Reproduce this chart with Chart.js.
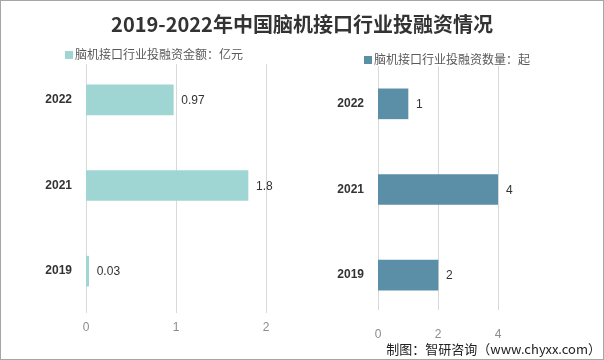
<!DOCTYPE HTML>
<html>
<head>
    <title>2019-2022年中国脑机接口行业投融资情况</title>
    <meta charset="utf-8">
    <script src="https://cdn.jsdelivr.net/npm/chart.js@4.4.1/dist/chart.umd.min.js"></script>
    <style>
        html, body {
            margin: 0;
            padding: 0;
            background: #fff;
        }
        .container {
            position: relative;
            width: 604px;
            height: 360px;
            border: 1px solid #a6a6a6;
            box-sizing: border-box;
            overflow: hidden;
            font-family: "Noto Sans CJK SC", "Noto Sans", sans-serif;
        }
        .title {
            position: absolute;
            top: 8px;
            left: 0;
            width: 100%;
            text-align: center;
            font-size: 20px;
            font-weight: bold;
            color: #333;
            line-height: 30px;
        }
        .legend {
            position: absolute;
            font-size: 12px;
            color: #595959;
            line-height: 16px;
            white-space: nowrap;
        }
        .legend i {
            display: inline-block;
            width: 8px;
            height: 8px;
            margin-right: 2px;
            vertical-align: 0px;
        }
        #amount-chart {
            position: absolute;
            top: 0;
            left: 0;
        }
        #count-chart {
            position: absolute;
            top: 0;
            left: 302px;
        }
        .source {
            position: absolute;
            right: 2px;
            top: 338px;
            font-size: 13px;
            color: #222;
            line-height: 20px;
            white-space: nowrap;
        }
    </style>
</head>
<body>
    <section class="container">
        <canvas id="amount-chart" width=302 height=360></canvas>
        <canvas id="count-chart" width=302 height=360></canvas>
        <div class="title">2019-2022年中国脑机接口行业投融资情况</div>
        <div class="legend" style="left:64px; top:45px;"><i style="background:#9fd6d3"></i>脑机接口行业投融资金额：亿元</div>
        <div class="legend" style="left:363px; top:50px;"><i style="background:#5b8fa7"></i>脑机接口行业投融资数量：起</div>
        <div class="source">制图：智研咨询（www.chyxx.com）</div>
    </section>

    <script>
        // data
        var years = ['2022', '2021', '2019'];
        var amount = [0.97, 1.8, 0.03];   // 亿元
        var count = [1, 4, 2];            // 起
        var amountTicks = [0, 1, 2];
        var countTicks = [0, 2, 4];

        // vertical grid lines, drawn only over the plot box (y0..y1)
        var gridPlugin = {
            id: 'shortGrid',
            beforeDatasetsDraw: function (chart, args, opts) {
                var ctx = chart.ctx;
                var xs = chart.scales.x;
                ctx.save();
                ctx.strokeStyle = '#d9d9d9';
                ctx.lineWidth = 1;
                xs.ticks.forEach(function (t) {
                    var px = Math.round(xs.getPixelForValue(t.value)) + 0.5;
                    ctx.beginPath();
                    ctx.moveTo(px, opts.y0);
                    ctx.lineTo(px, opts.y1);
                    ctx.stroke();
                });
                ctx.restore();
            }
        };

        var valueLabels = {
            id: 'valueLabels',
            afterDatasetsDraw: function (chart) {
                var ctx = chart.ctx;
                ctx.save();
                ctx.font = '12px "Liberation Sans", Arial, sans-serif';
                ctx.fillStyle = '#333';
                ctx.textBaseline = 'middle';
                ctx.textAlign = 'left';
                chart.getDatasetMeta(0).data.forEach(function (bar, i) {
                    ctx.fillText(String(chart.data.datasets[0].data[i]), bar.x + 8, bar.y + 1);
                });
                ctx.restore();
            }
        };

        function makeChart(id, values, ticks, color, o) {
            return new Chart(document.getElementById(id), {
                type: 'bar',
                data: {
                    labels: years,
                    datasets: [{
                        data: values,
                        backgroundColor: color,
                        barThickness: 30
                    }]
                },
                plugins: [gridPlugin, valueLabels],
                options: {
                    indexAxis: 'y',
                    responsive: false,
                    animation: false,
                    layout: {
                        padding: { top: o.top, right: o.right, left: 0, bottom: 0 }
                    },
                    plugins: {
                        legend: { display: false },
                        tooltip: { enabled: false },
                        shortGrid: { y0: o.gy0, y1: o.gy1 }
                    },
                    scales: {
                        x: {
                            min: 0,
                            max: ticks[ticks.length - 1],
                            afterBuildTicks: function (scale) {
                                scale.ticks = ticks.map(function (v) { return { value: v }; });
                            },
                            grid: { display: false, drawTicks: false },
                            border: { display: false },
                            ticks: {
                                padding: o.tickPad,
                                color: '#8c8c8c',
                                font: { size: 12, family: '"Liberation Sans", Arial, sans-serif' }
                            },
                            afterFit: function (scale) { scale.height = o.xh; }
                        },
                        y: {
                            grid: { display: false, drawTicks: false },
                            border: { display: false },
                            ticks: {
                                padding: 14,
                                color: '#333',
                                font: { size: 12, weight: 'bold', family: '"Liberation Sans", Arial, sans-serif' }
                            },
                            afterFit: function (scale) { scale.width = o.yw; }
                        }
                    }
                }
            });
        }

        makeChart('amount-chart', amount, amountTicks, '#9fd6d3',
            { top: 56, right: 37, yw: 85, xh: 47, tickPad: 6, gy0: 63, gy1: 312 });
        makeChart('count-chart', count, countTicks, '#5b8fa7',
            { top: 60, right: 107, yw: 75, xh: 43, tickPad: 9, gy0: 65, gy1: 309 });
    </script>
</body>
</html>
